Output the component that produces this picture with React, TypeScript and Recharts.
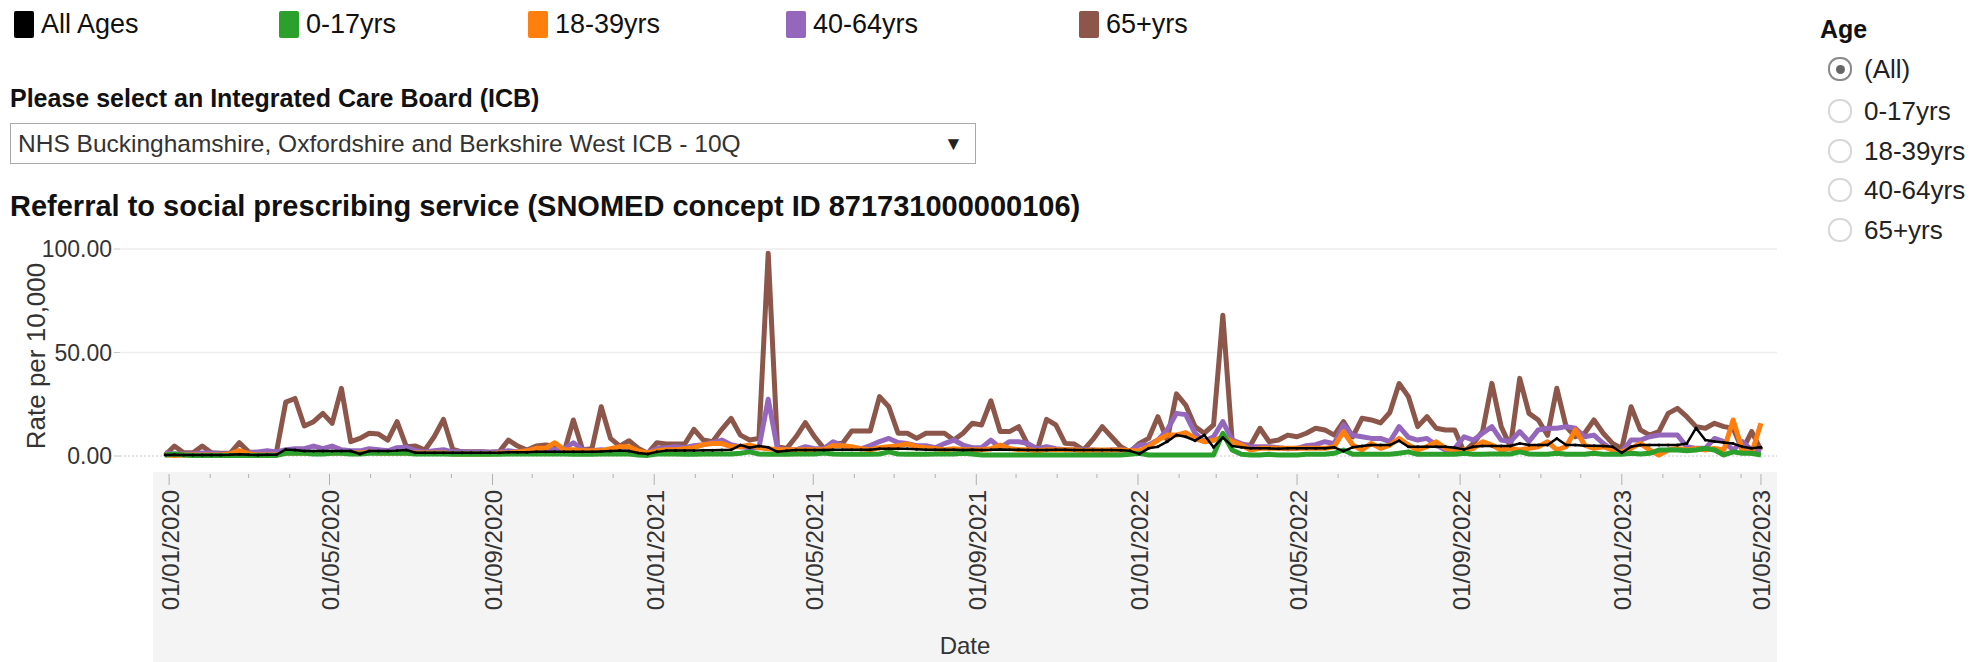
import React from 'react'
import { LineChart, Line, XAxis, YAxis, ReferenceLine } from 'recharts'

// weekly rate per 10,000, week starting 29/12/2019
const allAges = [
  0.5, 0.6, 0.5, 0.5, 0.5, 0.5, 0.5, 0.6, 0.8, 0.6, 0.5, 0.6, 0.6,
  3.2, 2.9, 2.4, 2.4, 2.4, 2.4, 2.4, 2.4, 1.0, 2.4, 2.4, 2.4, 2.6, 2.9, 1.6, 1.6, 1.6,
  1.6, 1.6, 1.6, 1.6, 1.6, 1.6, 1.6, 1.8, 1.8, 1.8, 2.0, 2.0, 2.0, 2.0,
  2.0, 2.0, 2.0, 2.2, 2.4, 2.6, 2.4, 1.5, 1.0, 2.0, 2.6, 2.6, 2.6, 2.6, 2.8, 2.8,
  2.9, 3.0, 5.3, 4.0, 4.8, 4.2, 2.0, 2.5, 2.9, 2.9, 2.9, 2.9, 3.0, 3.0, 3.0, 3.0,
  3.0, 3.5, 3.5, 3.5, 3.5, 3.3, 3.0, 3.0, 3.0, 3.0, 2.9, 3.0,
  2.9, 3.0, 3.2, 3.0, 3.0, 2.9, 2.9, 2.9, 3.0, 3.0, 2.9, 2.9, 2.9, 2.9, 2.9, 2.8,
  2.5, 1.0, 3.7, 4.5, 6.9, 10.1, 9.3, 7.4, 10.1, 4.2, 9.0, 4.8, 4.2, 3.7, 3.7, 3.7,
  3.5, 3.7, 3.7, 3.7, 3.7, 3.7, 4.2, 2.4, 4.2, 4.8,
  5.3, 5.3, 5.3, 7.4, 4.5, 4.5, 4.5, 4.5, 4.5, 4.0, 3.2, 4.5, 4.8, 4.8, 4.8, 4.8,
  6.1, 5.3, 5.3, 5.3, 8.5, 5.3, 5.3, 5.0, 5.0, 4.8, 4.5, 1.6, 4.5, 5.3, 5.3, 5.3,
  5.3, 5.3, 6.0, 13.5, 7.7, 7.0, 6.5, 6.0, 4.5, 3.7, 4.2,
]
const age0to17 = [
  0.5, 1.0, 0.5, 0.3, 0.3, 0.3, 0.3, 0.3, 0.3, 0.3, 0.3, 0.3, 0.3,
  1.3, 1.3, 1.3, 1.0, 1.0, 1.3, 1.3, 1.0, 1.0, 1.3, 1.3, 1.3, 1.3, 1.3, 1.0, 1.0, 1.0,
  1.0, 0.8, 0.8, 0.8, 0.8, 0.8, 0.8, 1.0, 1.0, 1.0, 1.0, 1.0, 1.0, 1.0,
  0.8, 0.8, 0.8, 1.0, 1.0, 1.0, 1.0, 0.5, 0.3, 1.0, 1.0, 1.0, 0.8, 0.8, 1.0, 1.0,
  1.0, 1.0, 1.3, 2.0, 1.0, 0.8, 0.8, 0.8, 1.0, 1.0, 1.0, 1.5, 1.0, 0.8, 0.8, 0.8,
  0.8, 1.0, 2.0, 1.0, 0.8, 0.8, 0.8, 1.0, 1.0, 1.0, 1.3, 1.0,
  0.5, 0.5, 0.5, 0.5, 0.5, 0.5, 0.5, 0.5, 0.5, 0.5, 0.5, 0.5, 0.5, 0.5, 0.5, 0.5,
  0.8, 1.3, 0.5, 0.5, 0.5, 0.5, 0.5, 0.5, 0.5, 0.5, 11.0, 2.9, 0.8, 0.5, 0.5, 0.8,
  0.5, 0.5, 0.5, 0.8, 0.8, 0.8, 1.3, 2.9, 0.8, 0.8,
  0.8, 0.8, 0.8, 1.3, 2.0, 0.8, 0.8, 0.8, 0.8, 0.8, 1.3, 0.8, 0.8, 1.0, 1.0, 1.0,
  2.0, 1.0, 0.8, 0.8, 1.3, 0.8, 0.8, 0.8, 1.3, 0.8, 0.8, 0.8, 1.3, 1.0, 1.3, 2.9,
  2.9, 2.9, 2.5, 2.9, 3.7, 2.9, 0.5, 2.0, 1.3, 1.3, 0.5,
]
const age18to39 = [
  0.5, 0.3, 0.5, 0.5, 0.5, 0.5, 0.5, 1.0, 2.6, 1.0, 0.5, 0.5, 0.5,
  1.5, 1.5, 1.5, 1.5, 1.5, 1.5, 1.5, 1.5, 1.5, 2.0, 1.5, 1.5, 1.5, 1.5, 1.5, 1.5, 1.5,
  1.5, 1.0, 1.0, 1.0, 1.0, 1.0, 1.5, 1.5, 2.0, 2.5, 3.7, 3.7, 6.4, 3.0,
  3.0, 2.5, 2.5, 2.5, 3.5, 4.5, 4.5, 2.5, 1.5, 2.5, 3.0, 3.0, 3.5, 4.0, 5.5, 6.0,
  6.0, 4.5, 4.5, 5.3, 4.0, 3.5, 3.0, 3.0, 3.0, 3.0, 3.0, 3.0, 5.0, 5.0, 4.5, 3.5,
  3.0, 4.0, 4.5, 5.0, 5.8, 4.5, 4.0, 3.5, 3.0, 3.5, 3.0, 3.0,
  3.0, 3.5, 5.3, 3.7, 3.0, 3.0, 2.5, 3.0, 3.0, 3.0, 3.0, 2.5, 2.9, 2.9, 2.9, 2.9,
  2.5, 2.5, 4.5, 7.7, 10.1, 10.1, 11.3, 8.5, 6.9, 7.5, 9.3, 6.9, 5.3, 2.9, 3.7, 3.7,
  3.7, 3.7, 3.7, 3.7, 3.7, 3.7, 4.5, 11.8, 5.3, 2.9,
  6.1, 3.7, 5.3, 8.5, 5.3, 2.9, 4.5, 6.9, 3.7, 2.9, 2.9, 3.7, 6.9, 5.3, 2.9, 3.7,
  2.9, 3.7, 4.5, 6.9, 2.9, 4.5, 12.6, 5.3, 3.7, 4.5, 2.9, 2.0, 3.7, 6.1, 2.9, 0.5,
  2.9, 3.7, 2.9, 3.7, 2.9, 3.7, 2.9, 17.4, 2.9, 1.3, 15.8,
]
const age40to64 = [
  1.5, 1.0, 1.0, 1.0, 1.5, 1.5, 1.0, 1.0, 2.0, 1.5, 2.0, 2.6, 2.0,
  3.0, 3.5, 3.5, 4.8, 3.5, 4.8, 3.0, 2.5, 2.5, 3.5, 3.0, 2.5, 4.0, 4.2, 2.5, 2.0, 2.5,
  3.0, 2.0, 2.0, 1.8, 2.0, 1.8, 2.0, 2.5, 2.0, 2.5, 3.0, 3.5, 3.0, 3.5,
  6.4, 3.0, 2.5, 3.0, 2.5, 2.5, 3.0, 2.0, 1.5, 3.5, 4.0, 4.5, 4.0, 5.0, 5.5, 6.5,
  7.7, 5.5, 4.5, 4.0, 4.0, 27.4, 3.5, 3.0, 3.0, 4.5, 3.5, 3.5, 6.9, 5.0, 4.0, 3.5,
  5.0, 7.0, 8.5, 6.5, 6.0, 5.0, 5.0, 4.0, 6.0, 7.7, 5.3, 4.0,
  4.0, 7.7, 4.0, 6.9, 6.9, 6.0, 3.5, 4.5, 3.5, 3.0, 3.0, 3.0, 2.9, 2.5, 2.9, 3.0,
  2.5, 5.3, 5.3, 7.7, 12.6, 20.6, 20.0, 11.0, 7.0, 9.3, 16.6, 7.7, 6.0, 4.5, 4.5, 4.5,
  4.0, 3.5, 3.7, 5.0, 5.5, 6.9, 6.0, 15.0, 10.0, 9.3,
  8.5, 8.5, 7.0, 14.2, 9.0, 7.7, 8.5, 5.3, 2.9, 3.7, 9.3, 7.7, 11.0, 14.2, 7.7, 7.0,
  11.8, 7.0, 12.6, 13.4, 13.4, 14.2, 13.4, 9.3, 10.1, 6.1, 2.9, 2.0, 7.7, 7.7, 9.3, 10.1,
  10.1, 10.1, 4.5, 3.7, 3.7, 8.5, 6.9, 2.9, 6.9, 2.9, 2.0,
]
const age65plus = [
  0.5, 4.8, 1.6, 1.6, 4.8, 1.6, 1.3, 1.3, 6.4, 2.0, 1.6, 1.3, 2.0,
  26.0, 27.8, 14.5, 16.6, 20.6, 15.8, 32.7, 6.9, 8.5, 11.0, 10.6, 7.7, 16.6, 4.5, 4.8, 2.9, 9.3,
  17.7, 3.2, 2.0, 2.0, 2.0, 1.8, 2.0, 7.7, 4.8, 2.9, 4.8, 5.3, 4.8, 2.0,
  17.4, 3.0, 3.5, 23.8, 8.5, 4.8, 7.4, 3.7, 1.3, 6.4, 5.8, 5.8, 5.8, 12.9, 7.7, 6.9,
  12.9, 18.2, 10.1, 7.7, 8.5, 98.0, 4.5, 3.7, 9.3, 16.1, 9.3, 3.7, 6.1, 6.1, 12.1, 12.1,
  12.1, 28.7, 23.8, 11.0, 11.0, 8.5, 11.0, 11.0, 11.0, 7.7, 11.0, 15.8,
  15.0, 26.7, 11.8, 11.8, 14.2, 5.3, 2.9, 17.7, 15.0, 6.1, 5.8, 2.9, 8.0, 14.2, 9.3, 4.5,
  2.0, 6.1, 8.5, 19.0, 7.7, 30.0, 24.6, 14.2, 11.0, 15.0, 68.0, 7.7, 5.3, 5.3, 13.4, 6.9,
  7.7, 10.1, 9.3, 11.0, 13.4, 12.6, 10.1, 16.6, 9.3, 18.2,
  17.4, 16.0, 21.0, 35.0, 28.7, 14.2, 19.0, 13.4, 12.6, 12.6, 2.0, 6.1, 12.0, 35.1, 14.2, 4.5,
  37.5, 20.6, 17.4, 10.0, 32.7, 14.2, 9.3, 11.0, 17.4, 11.0, 6.1, 3.7, 23.8, 12.6, 10.1, 11.8,
  20.6, 23.0, 19.0, 14.2, 13.4, 15.8, 14.2, 13.4, 2.9, 11.8, 2.9,
]

const seriesNames = ['All Ages', '0-17yrs', '18-39yrs', '40-64yrs', '65+yrs']
const seriesKeys = ['all', 'a0', 'a18', 'a40', 'a65']
const seriesColors = ['#000000', '#2ca02c', '#ff7f0e', '#9467bd', '#8c564b']

const xTickLabels = [
  '01/01/2020', '01/05/2020', '01/09/2020', '01/01/2021', '01/05/2021', '01/09/2021',
  '01/01/2022', '01/05/2022', '01/09/2022', '01/01/2023', '01/05/2023',
]
const yTicks = [0, 50, 100]
const ageOptions = ['(All)', '0-17yrs', '18-39yrs', '40-64yrs', '65+yrs']

const DAY = 86400000
const ORIGIN = Date.UTC(2020, 0, 1)
const firstWeek = Date.UTC(2019, 11, 29)
const dayOf = (t: number) => Math.round((t - ORIGIN) / DAY)
const parse = (s: string) => {
  const [d, m, y] = s.split('/').map(Number)
  return Date.UTC(y, m - 1, d)
}

const data = allAges.map((v, i) => ({
  day: dayOf(firstWeek) + 7 * i,
  all: v,
  a0: age0to17[i],
  a18: age18to39[i],
  a40: age40to64[i],
  a65: age65plus[i],
}))
const lastDay = data[data.length - 1].day
// last label is pinned to the end of the axis
const majorDays = xTickLabels.map(l => Math.min(dayOf(parse(l)), lastDay))
const minorDays: number[] = []
for (let m = 1; m < 40; m++) {
  const d = dayOf(Date.UTC(2020, m, 1))
  if (d < lastDay && !majorDays.includes(d)) minorDays.push(d)
}
const allTicks = [...majorDays, ...minorDays].sort((a, b) => a - b)

const FONT = 'Arial, "Liberation Sans", sans-serif'
const PX_PER_DAY = 9.25 / 7
const xDomain = [dayOf(firstWeek) - 45 / PX_PER_DAY, lastDay + 16 / PX_PER_DAY]
const yDomain = [-6.76, 102.9]
const AXIS_Y = 234

const DateTick = (props: any) => {
  const { x, payload } = props
  const k = majorDays.indexOf(payload.value)
  const major = k >= 0
  return (
    <g>
      <line x1={x} x2={x} y1={AXIS_Y + 4} y2={AXIS_Y + (major ? 15 : 8)} stroke="#b0b0b0" strokeWidth={1} />
      {major && (
        <text
          transform={`translate(${x + 1},${AXIS_Y + 20}) rotate(-90)`}
          textAnchor="end"
          dominantBaseline="central"
          fontSize={24}
          fontFamily={FONT}
          fill="#333"
        >
          {xTickLabels[k]}
        </text>
      )}
    </g>
  )
}

const legendLeft = [14, 279, 528, 786, 1079]
const radioTop = [69, 111, 151, 190, 230]

const abs = (s: React.CSSProperties): React.CSSProperties => ({ position: 'absolute', whiteSpace: 'nowrap', ...s })

export default function App() {
  return (
    <div style={abs({ left: 0, top: 0, width: 1972, height: 662, background: '#fff', overflow: 'hidden', fontFamily: FONT, color: '#111' })}>
      {seriesNames.map((n, i) => (
        <div key={n} style={abs({ left: legendLeft[i], top: 10, height: 28, display: 'flex', alignItems: 'center' })}>
          <div style={{ width: 20, height: 27, background: seriesColors[i], borderRadius: 2 }} />
          <span style={{ marginLeft: 7, fontSize: 27 }}>{n}</span>
        </div>
      ))}

      <div style={abs({ left: 10, top: 84, fontSize: 25, fontWeight: 'bold' })}>Please select an Integrated Care Board (ICB)</div>
      <div style={abs({ left: 10, top: 123, width: 964, height: 39, border: '1px solid #a9a9a9', background: '#fff' })}>
        <span style={abs({ left: 7, top: 6, fontSize: 24.5, color: '#333' })}>NHS Buckinghamshire, Oxfordshire and Berkshire West ICB - 10Q</span>
        <span style={abs({ left: 933, top: 9, fontSize: 19, color: '#222' })}>▼</span>
      </div>
      <div style={abs({ left: 10, top: 190, fontSize: 29, fontWeight: 'bold' })}>Referral to social prescribing service (SNOMED concept ID 871731000000106)</div>

      <div style={abs({ left: 1820, top: 15, fontSize: 25, fontWeight: 'bold' })}>Age</div>
      {ageOptions.map((o, i) => (
        <div key={o} style={abs({ left: 1828, top: radioTop[i] - 12, height: 24, display: 'flex', alignItems: 'center' })}>
          <div style={{ width: 20, height: 20, borderRadius: 11, border: `2px solid ${i === 0 ? '#8a8a8a' : '#d8d8d8'}`, display: 'flex', alignItems: 'center', justifyContent: 'center' }}>
            {i === 0 && <div style={{ width: 9, height: 9, borderRadius: 5, background: '#666' }} />}
          </div>
          <span style={{ marginLeft: 12, fontSize: 26, color: '#222' }}>{o}</span>
        </div>
      ))}

      <div style={abs({ left: 153, top: 472, width: 1624, height: 190, background: '#f4f4f4' })}>
        <span style={abs({ left: 0, width: 1624, textAlign: 'center', top: 160, fontSize: 24, color: '#333' })}>Date</span>
      </div>
      <div style={abs({ left: 36, top: 356, transform: 'translate(-50%,-50%) rotate(-90deg)', fontSize: 26, color: '#333' })}>Rate per 10,000</div>

      <div style={abs({ left: 0, top: 236 })}>
        <LineChart width={1800} height={426} data={data} margin={{ top: 7, right: 23, bottom: 0, left: 0 }}>
          <XAxis
            dataKey="day"
            type="number"
            domain={xDomain}
            ticks={allTicks}
            interval={0}
            tick={<DateTick />}
            tickLine={false}
            axisLine={false}
            height={192}
          />
          <YAxis
            type="number"
            domain={yDomain}
            ticks={yTicks}
            width={120}
            axisLine={false}
            tickSize={6}
            tickLine={{ stroke: '#c8c8c8' }}
            tickFormatter={(v: number) => v.toFixed(2)}
            tick={{ fontSize: 23, fill: '#333', fontFamily: FONT }}
          />
          <ReferenceLine y={100} stroke="#ededed" strokeWidth={1.5} />
          <ReferenceLine y={50} stroke="#ededed" strokeWidth={1.5} />
          <ReferenceLine y={0} stroke="#c8c8c8" strokeDasharray="2 2" />
          {[4, 3, 2, 1].map(i => (
            <Line
              key={seriesKeys[i]}
              dataKey={seriesKeys[i]}
              name={seriesNames[i]}
              type="linear"
              stroke={seriesColors[i]}
              strokeWidth={5}
              strokeLinejoin="round"
              dot={false}
              isAnimationActive={false}
            />
          ))}
          <Line
            dataKey="all"
            name="All Ages"
            type="linear"
            stroke="#000"
            strokeWidth={2.5}
            strokeLinejoin="round"
            dot={{ r: 1.5, fill: '#000', stroke: 'none' }}
            isAnimationActive={false}
          />
        </LineChart>
      </div>
    </div>
  )
}
